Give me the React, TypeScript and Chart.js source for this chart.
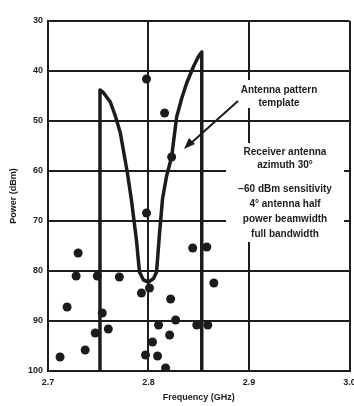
import React, { useEffect, useRef } from "react";
import { Chart, registerables } from "chart.js";

Chart.register(...registerables);

// Axis ticks
const xTicks = [2.7, 2.8, 2.9, 3.0];
const xTickLabels = ["2.7", "2.8", "2.9", "3.0"];
const yTicks = [30, 40, 50, 60, 70, 80, 90, 100];
const yTickLabels = ["30", "40", "50", "60", "70", "80", "90", "100"];

// Antenna pattern template (frequency GHz, power dBm magnitude)
const templateFreq = [2.7517, 2.7517, 2.755, 2.762, 2.767, 2.772, 2.779, 2.783, 2.788, 2.791, 2.795, 2.8, 2.805, 2.808, 2.811, 2.814, 2.818, 2.823, 2.828, 2.833, 2.838, 2.845, 2.85, 2.853, 2.853];
const templatePower = [100, 43.8, 44.3, 46.2, 49, 52.4, 60.4, 65.8, 73.8, 80.2, 81.8, 82.2, 81.5, 80.2, 72.4, 65.5, 61, 57.2, 49.2, 45.5, 42.4, 39, 37, 36.2, 100];

// Measured signals (dots)
const dotFreq = [2.798, 2.816, 2.823, 2.798, 2.73, 2.728, 2.749, 2.771, 2.719, 2.754, 2.747, 2.76, 2.737, 2.712, 2.793, 2.801, 2.822, 2.81, 2.827, 2.821, 2.804, 2.809, 2.817, 2.797, 2.844, 2.858, 2.865, 2.848, 2.859];
const dotPower = [41.6, 48.4, 57.2, 68.4, 76.4, 81.0, 81.0, 81.2, 87.2, 88.4, 92.4, 91.6, 95.8, 97.2, 84.4, 83.4, 85.6, 90.8, 89.8, 92.8, 94.2, 97.0, 99.4, 96.8, 75.4, 75.2, 82.4, 90.8, 90.8];

// Annotation texts
const templateNote = ["Antenna pattern", "template"];
const receiverNote = ["Receiver antenna", "azimuth 30°", "\u221260 dBm sensitivity", "4° antenna half", "power beamwidth", "full bandwidth"];

const INK = "#1c1c1c";

export default function App() {
  const ref = useRef<HTMLCanvasElement | null>(null);
  useEffect(() => {
    if (!ref.current) return;
    const textPlugin = {
      id: "textPlugin",
      afterDraw(chart: any) {
        const ctx = chart.ctx;
        const xs = chart.scales.x;
        const ys = chart.scales.y;
        const area = chart.chartArea;
        ctx.save();
        // annotation boxes (hide grid lines)
        ctx.fillStyle = "#ffffff";
        ctx.fillRect(232, 80, 98, 28);
        ctx.fillRect(226, 143, 118, 99);
        ctx.fillStyle = INK;
        ctx.font = "bold 10px 'Liberation Sans', Arial, sans-serif";
        ctx.textAlign = "center";
        ctx.textBaseline = "middle";
        templateNote.forEach((t, i) => ctx.fillText(t, 279, 90 + i * 13));
        receiverNote.forEach((t, i) => {
          const y = i < 2 ? 152 + i * 13 : 189 + (i - 2) * 15;
          ctx.fillText(t, 285, y);
        });
        // arrow
        ctx.strokeStyle = INK;
        ctx.lineWidth = 2;
        ctx.beginPath();
        ctx.moveTo(238, 101);
        ctx.lineTo(190, 144);
        ctx.stroke();
        ctx.beginPath();
        ctx.moveTo(184, 149);
        ctx.lineTo(195, 144);
        ctx.lineTo(189, 138);
        ctx.closePath();
        ctx.fill();
        // tick labels
        ctx.font = "bold 9px 'Liberation Sans', Arial, sans-serif";
        ctx.textAlign = "right";
        yTicks.forEach((v, i) => ctx.fillText(yTickLabels[i], area.left - 5, ys.getPixelForValue(v)));
        ctx.textAlign = "center";
        xTicks.forEach((v, i) => ctx.fillText(xTickLabels[i], xs.getPixelForValue(v), area.bottom + 12));
        // axis titles
        ctx.font = "bold 9px 'Liberation Sans', Arial, sans-serif";
        ctx.fillText("Frequency (GHz)", (area.left + area.right) / 2, area.bottom + 27);
        ctx.translate(14, (area.top + area.bottom) / 2);
        ctx.rotate(-Math.PI / 2);
        ctx.fillText("Power (dBm)", 0, 0);
        ctx.restore();
      },
    };
    const chart = new Chart(ref.current, {
      type: "scatter",
      data: {
        datasets: [
          {
            label: "Antenna pattern template",
            data: templateFreq.map((x, i) => ({ x, y: templatePower[i] })),
            showLine: true,
            borderColor: INK,
            borderWidth: 3.5,
            pointRadius: 0,
            tension: 0,
            borderJoinStyle: "round",
            borderCapStyle: "round",
          } as any,
          {
            label: "Signals",
            data: dotFreq.map((x, i) => ({ x, y: dotPower[i] })),
            backgroundColor: INK,
            borderColor: INK,
            borderWidth: 0,
            pointRadius: 4.5,
          },
        ],
      },
      options: {
        animation: false,
        responsive: false,
        maintainAspectRatio: false,
        layout: { padding: { top: 21, right: 4, left: 0, bottom: 0 } },
        plugins: { legend: { display: false }, tooltip: { enabled: false } },
        scales: {
          x: {
            type: "linear",
            min: 2.7,
            max: 3.0,
            afterBuildTicks: (s: any) => { s.ticks = xTicks.map((v) => ({ value: v })); },
            afterFit: (s: any) => { s.height = 35; },
            ticks: { display: false },
            grid: { color: INK, lineWidth: 2, drawTicks: false },
            border: { color: INK, width: 2 },
          },
          y: {
            type: "linear",
            reverse: true,
            min: 30,
            max: 100,
            afterBuildTicks: (s: any) => { s.ticks = yTicks.map((v) => ({ value: v })); },
            afterFit: (s: any) => { s.width = 48; },
            ticks: { display: false },
            grid: { color: INK, lineWidth: 2, drawTicks: false },
            border: { color: INK, width: 2 },
          },
        },
      },
      plugins: [textPlugin],
    });
    return () => chart.destroy();
  }, []);
  return (
    <div style={{ position: "fixed", left: 0, top: 0, width: 354, height: 406, background: "#fff" }}>
      <canvas ref={ref} width={354} height={406} />
    </div>
  );
}
